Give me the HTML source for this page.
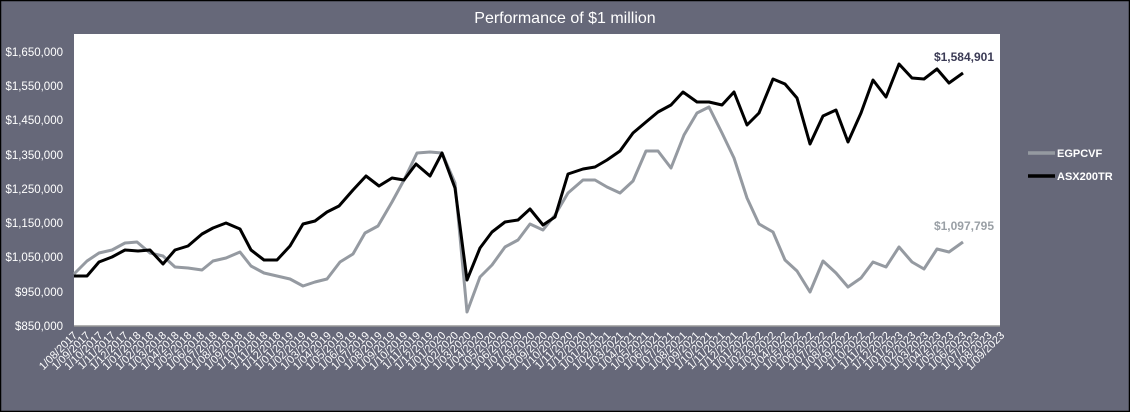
<!DOCTYPE html>
<html><head><meta charset="utf-8"><style>
html,body{margin:0;padding:0;background:#666879;}
svg{display:block;font-family:"Liberation Sans",sans-serif;}
</style></head><body>
<svg width="1130" height="412" viewBox="0 0 1130 412" xmlns="http://www.w3.org/2000/svg">
<rect x="0.5" y="0.5" width="1129" height="411" fill="#666879" stroke="#000" stroke-width="1.5"/>
<text x="565" y="23" fill="#fff" font-size="16" text-anchor="middle">Performance of $1 million</text>
<rect x="74" y="34" width="926" height="292" fill="#fff"/>
<line x1="74" y1="326" x2="1000" y2="326" stroke="#999" stroke-width="1.5"/>
<g fill="#fff" font-size="11.5" text-anchor="end">
<text x="63" y="56">$1,650,000</text>
<text x="63" y="90">$1,550,000</text>
<text x="63" y="124">$1,450,000</text>
<text x="63" y="159">$1,350,000</text>
<text x="63" y="193">$1,250,000</text>
<text x="63" y="227">$1,150,000</text>
<text x="63" y="261">$1,050,000</text>
<text x="63" y="296">$950,000</text>
<text x="63" y="330">$850,000</text>
</g>
<polyline fill="none" stroke="#959aa1" stroke-width="3" stroke-linejoin="round" points="74,274 87,261 99,253 112,250 125,243 137,242 150,253 163,256 175,267 188,268 202,270 213,261 226,258 240,252 251,266 264,273 277,276 290,279 303,286 315,282 327,279 340,262 353,254 365,233 378,226 392,202 404,180 417,153 430,152 442,153 455,183 467,312 480,277 492,265 505,247 518,240 530,224 543,230 555,215 568,193 583,180 595,180 607,187 620,193 633,181 646,151 658,151 671,168 684,135 697,113 709,107 722,133 734,158 747,198 759,224 773,232 785,260 797,271 810,292 823,261 836,273 848,287 861,278 873,262 886,267 899,247 912,262 924,269 937,249 949,252 963,242"/>
<polyline fill="none" stroke="#000" stroke-width="3" stroke-linejoin="round" points="74,276 87,276 99,262 112,257 125,250 138,251 150,250 163,264 175,250 188,246 202,234 213,228 226,223 240,229 251,250 264,260 277,260 290,246 303,224 315,221 327,212 339,206 353,190 366,176 379,186 392,178 404,180 416,164 430,176 442,153 455,188 467,280 480,248 492,232 505,222 518,220 530,209 543,225 555,217 568,174 583,169 595,167 607,160 620,151 633,133 646,122 658,112 671,105 683,92 697,102 709,102 722,105 734,92 747,125 759,113 773,79 785,84 797,98 810,144 823,116 836,110 848,142 861,113 873,80 886,97 899,64 912,78 924,79 937,69 949,83 963,73"/>
<text x="994" y="61" fill="#3b3b55" font-size="12" font-weight="bold" text-anchor="end">$1,584,901</text>
<text x="994" y="230" fill="#9aa0a6" font-size="12" font-weight="bold" text-anchor="end">$1,097,795</text>
<line x1="1028" y1="153" x2="1055" y2="153" stroke="#959aa1" stroke-width="3.5"/>
<text x="1057" y="157" fill="#fff" font-size="11" font-weight="bold">EGPCVF</text>
<line x1="1028" y1="176" x2="1055" y2="176" stroke="#000" stroke-width="3.5"/>
<text x="1057" y="180" fill="#fff" font-size="11" font-weight="bold">ASX200TR</text>
<g fill="#fff" font-size="11" text-anchor="end" id="xl"></g>
</svg>
<script>
(function(){var g=document.getElementById('xl'),m=8,y=2017,s='';
for(var i=0;i<74;i++){var x=(78+12.7*i).toFixed(1),yy=336;
var lab='1/'+(m<10?'0':'')+m+'/'+y;
s+='<text x="'+x+'" y="'+yy+'" transform="rotate(-45 '+x+' '+yy+')">'+lab+'</text>';
m++;if(m>12){m=1;y++;}}
g.innerHTML=s;})();
</script>
</body></html>
